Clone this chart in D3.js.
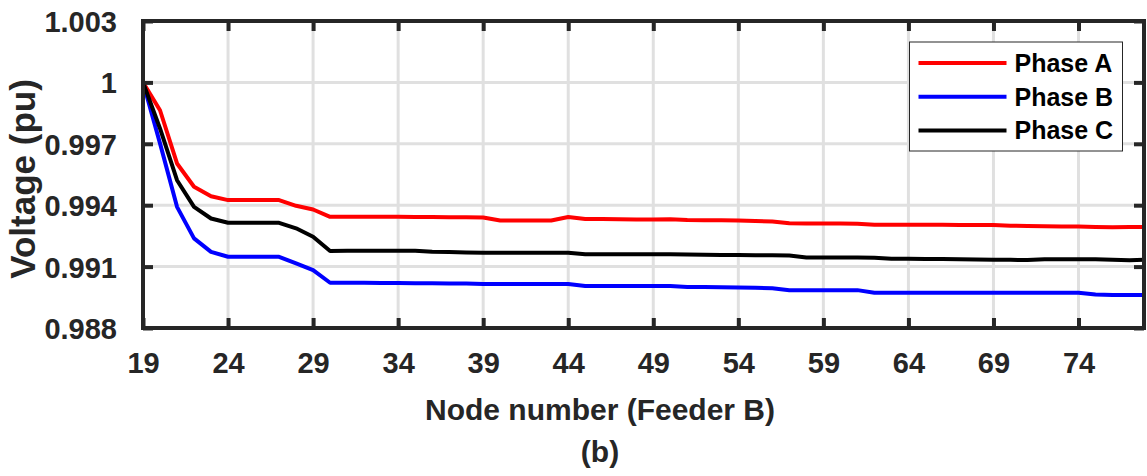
<!DOCTYPE html>
<html>
<head>
<meta charset="utf-8">
<script src="https://cdn.jsdelivr.net/npm/d3@7"></script>
<style>
  html, body { margin: 0; padding: 0; background: #fff; }
  svg text { font-family: "Liberation Sans", Arial, sans-serif; font-weight: bold; }
</style>
</head>
<body>
<div id="chart"></div>
<script>
// node numbers on feeder B
const nodes = d3.range(19, 79);

const phaseA = [
  1.00000, 0.99864, 0.99604, 0.99490, 0.99444, 0.99425, 0.99425, 0.99425, 0.99425, 0.99397,
  0.99379, 0.99343, 0.99343, 0.99343, 0.99343, 0.99343, 0.99342, 0.99342, 0.99341, 0.99341,
  0.99340, 0.99325, 0.99325, 0.99325, 0.99325, 0.99342, 0.99333, 0.99332, 0.99331, 0.99330,
  0.99330, 0.99331, 0.99328, 0.99327, 0.99326, 0.99325, 0.99323, 0.99320, 0.99312, 0.99311,
  0.99311, 0.99311, 0.99309, 0.99304, 0.99304, 0.99304, 0.99304, 0.99304, 0.99303, 0.99303,
  0.99303, 0.99300, 0.99298, 0.99297, 0.99296, 0.99296, 0.99294, 0.99292, 0.99294, 0.99294
];

const phaseB = [
  1.00000, 0.99702, 0.99392, 0.99238, 0.99172, 0.99148, 0.99148, 0.99148, 0.99148, 0.99116,
  0.99083, 0.99021, 0.99021, 0.99021, 0.99020, 0.99020, 0.99019, 0.99019, 0.99018, 0.99018,
  0.99015, 0.99015, 0.99015, 0.99015, 0.99015, 0.99015, 0.99005, 0.99005, 0.99005, 0.99005,
  0.99005, 0.99005, 0.99000, 0.99000, 0.98999, 0.98998, 0.98997, 0.98994, 0.98985, 0.98985,
  0.98985, 0.98985, 0.98985, 0.98972, 0.98972, 0.98972, 0.98972, 0.98972, 0.98972, 0.98972,
  0.98972, 0.98972, 0.98972, 0.98972, 0.98972, 0.98972, 0.98964, 0.98961, 0.98961, 0.98961
];

const phaseC = [
  1.00000, 0.99775, 0.99522, 0.99392, 0.99335, 0.99314, 0.99314, 0.99314, 0.99314, 0.99287,
  0.99246, 0.99176, 0.99177, 0.99177, 0.99177, 0.99177, 0.99177, 0.99172, 0.99171, 0.99169,
  0.99168, 0.99168, 0.99168, 0.99168, 0.99168, 0.99168, 0.99160, 0.99160, 0.99160, 0.99160,
  0.99160, 0.99160, 0.99159, 0.99158, 0.99157, 0.99157, 0.99156, 0.99155, 0.99154, 0.99145,
  0.99145, 0.99145, 0.99145, 0.99143, 0.99138, 0.99138, 0.99137, 0.99137, 0.99136, 0.99135,
  0.99134, 0.99133, 0.99132, 0.99136, 0.99136, 0.99136, 0.99136, 0.99134, 0.99131, 0.99134
];

const seriesNames = ["Phase A", "Phase B", "Phase C"];
const seriesColors = ["#ff0000", "#0000ff", "#000000"];

const xTicks = [19, 24, 29, 34, 39, 44, 49, 54, 59, 64, 69, 74];
const yTicks = [0.988, 0.991, 0.994, 0.997, 1.000, 1.003];
const yTickLabels = ["0.988", "0.991", "0.994", "0.997", "1", "1.003"];

const xLabel = "Node number (Feeder B)";
const yLabel = "Voltage (pu)";
const caption = "(b)";

function drawChart() {
  const totalW = 1147, totalH = 476;
  const margin = { top: 21, left: 143 };
  const width = 1001, height = 307;
  const axisColor = "#262626";

  const svg = d3.select("#chart")
    .append("svg")
    .attr("width", totalW)
    .attr("height", totalH);

  const chart = svg.append("g")
    .attr("transform", `translate(${margin.left},${margin.top})`);

  const x = d3.scaleLinear().domain([19, 77.85]).range([0, width]);
  const y = d3.scaleLinear().domain([0.988, 1.003]).range([height, 0]);

  // grid
  chart.append("g")
    .selectAll("line.vgrid")
    .data(xTicks)
    .join("line")
    .attr("x1", d => x(d)).attr("x2", d => x(d))
    .attr("y1", 0).attr("y2", height)
    .attr("stroke", "#e0e0e0")
    .attr("stroke-width", 3);

  chart.append("g")
    .selectAll("line.hgrid")
    .data(yTicks)
    .join("line")
    .attr("x1", 0).attr("x2", width)
    .attr("y1", d => y(d)).attr("y2", d => y(d))
    .attr("stroke", "#e0e0e0")
    .attr("stroke-width", 3);

  svg.append("defs").append("clipPath")
    .attr("id", "plot-clip")
    .append("rect")
    .attr("width", width)
    .attr("height", height);

  const lineGen = d3.line()
    .x(d => x(d.node))
    .y(d => y(d.value));

  const allSeries = [phaseA, phaseB, phaseC];
  const lines = chart.append("g").attr("clip-path", "url(#plot-clip)");
  allSeries.forEach((vals, i) => {
    const series = nodes.map((n, j) => ({ node: n, value: vals[j] }));
    lines.append("path")
      .datum(series)
      .attr("fill", "none")
      .attr("stroke", seriesColors[i])
      .attr("stroke-width", 4)
      .attr("stroke-linejoin", "round")
      .attr("d", lineGen);
  });

  // axes (box with inward ticks on all four sides)
  const tickLen = 10;
  const fmtY = d => yTickLabels[yTicks.indexOf(d)];

  chart.append("g")
    .attr("transform", `translate(0,${height})`)
    .call(d3.axisBottom(x).tickValues(xTicks).tickSizeInner(-tickLen).tickSizeOuter(0).tickPadding(24))
    .call(g => g.selectAll("text").attr("font-size", "29px").attr("fill", axisColor).attr("font-family", null));

  chart.append("g")
    .call(d3.axisTop(x).tickValues(xTicks).tickSizeInner(-tickLen).tickSizeOuter(0).tickFormat(""));

  chart.append("g")
    .call(d3.axisLeft(y).tickValues(yTicks).tickFormat(fmtY).tickSizeInner(-tickLen).tickSizeOuter(0).tickPadding(26))
    .call(g => g.selectAll("text").attr("font-size", "29px").attr("fill", axisColor).attr("font-family", null).attr("dy", "0.36em"));

  chart.append("g")
    .attr("transform", `translate(${width},0)`)
    .call(d3.axisRight(y).tickValues(yTicks).tickSizeInner(-tickLen).tickSizeOuter(0).tickFormat(""));

  chart.selectAll(".domain").remove();
  chart.selectAll(".tick line")
    .attr("stroke", axisColor)
    .attr("stroke-width", 4);

  chart.append("rect")
    .attr("width", width)
    .attr("height", height)
    .attr("fill", "none")
    .attr("stroke", axisColor)
    .attr("stroke-width", 4);

  // labels
  svg.append("text")
    .attr("x", 600)
    .attr("y", 420)
    .attr("text-anchor", "middle")
    .attr("font-size", "30px")
    .attr("fill", axisColor)
    .text(xLabel);

  svg.append("text")
    .attr("x", 600)
    .attr("y", 462)
    .attr("text-anchor", "middle")
    .attr("font-size", "30px")
    .attr("fill", axisColor)
    .text(caption);

  svg.append("text")
    .attr("transform", "translate(35,179) rotate(-90)")
    .attr("text-anchor", "middle")
    .attr("font-size", "35px")
    .attr("fill", axisColor)
    .text(yLabel);

  // legend
  const legend = svg.append("g")
    .attr("transform", "translate(909.5,42)");

  legend.append("rect")
    .attr("width", 213)
    .attr("height", 109)
    .attr("fill", "#fff")
    .attr("stroke", axisColor)
    .attr("stroke-width", 1);

  seriesNames.forEach((name, i) => {
    const ly = 21 + i * 33.7;
    legend.append("line")
      .attr("x1", 9).attr("x2", 97)
      .attr("y1", ly).attr("y2", ly)
      .attr("stroke", seriesColors[i])
      .attr("stroke-width", 4);
    legend.append("text")
      .attr("x", 105)
      .attr("y", ly)
      .attr("dy", "0.36em")
      .attr("font-size", "25px")
      .attr("fill", "#000")
      .text(name);
  });
}

drawChart();
</script>
</body>
</html>
